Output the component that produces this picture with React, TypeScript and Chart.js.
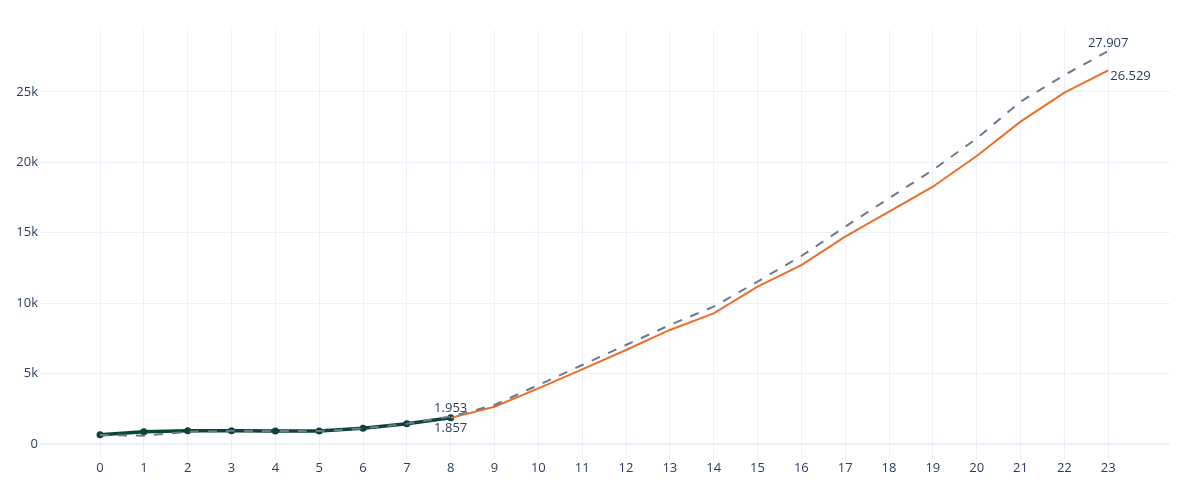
import React, { useEffect, useRef } from "react";
import { Chart, registerables } from "chart.js";

Chart.register(...registerables);

const categories = [0, 1, 2, 3, 4, 5, 6, 7, 8, 9, 10, 11, 12, 13, 14, 15, 16, 17, 18, 19, 20, 21, 22, 23];
const forecastValues = [640, 590, 860, 935, 925, 915, 1110, 1435, 1953, 2770, 4190, 5610, 7030, 8450, 9750, 11530, 13350, 15430, 17450, 19460, 21700, 24310, 26200, 27907];
const actualValues = [660, 875, 940, 940, 930, 920, 1115, 1440, 1857];
const projectionStart = 8;
const projectionValues = [1857, 2650, 3955, 5300, 6675, 8100, 9280, 11170, 12710, 14720, 16500, 18270, 20450, 22890, 24950, 26529];
const yTickValues = [0, 5000, 10000, 15000, 20000, 25000];

const TEXT_COLOR = "#2a3f5f";
const GRID_COLOR = "#ebf0f8";

function fmt(v: number): string {
  const s = Math.round(v).toString();
  return s.replace(/\B(?=(\d{3})+(?!\d))/g, ".");
}

const labelSpecs = [
  { ds: 0, idx: 8, pos: "top" },
  { ds: 0, idx: 23, pos: "top" },
  { ds: 1, idx: projectionValues.length - 1, pos: "bottomright" },
  { ds: 2, idx: 8, pos: "bottom" },
];

const labelPlugin = {
  id: "pointLabels",
  afterDatasetsDraw(chart: any) {
    const ctx = chart.ctx;
    ctx.save();
    ctx.font = '13px "Open Sans"';
    ctx.fillStyle = TEXT_COLOR;
    ctx.textBaseline = "middle";
    for (const s of labelSpecs) {
      const meta = chart.getDatasetMeta(s.ds);
      const el = meta.data[s.idx];
      if (!el) continue;
      const raw: any = chart.data.datasets[s.ds].data[s.idx];
      const text = fmt(raw.y);
      if (s.pos === "top") {
        ctx.textAlign = "center";
        ctx.fillText(text, el.x, el.y - 8);
      } else if (s.pos === "bottom") {
        ctx.textAlign = "center";
        ctx.fillText(text, el.x, el.y + 10);
      } else {
        ctx.textAlign = "left";
        ctx.fillText(text, el.x + 2, el.y + 6);
      }
    }
    ctx.restore();
  },
};

export default function App() {
  const ref = useRef<HTMLCanvasElement | null>(null);
  useEffect(() => {
    document.body.style.margin = "0";
    if (!ref.current) return;
    Chart.defaults.font.family = '"Open Sans", verdana, arial, sans-serif';
    Chart.defaults.font.size = 13;
    Chart.defaults.color = TEXT_COLOR;
    const chart = new Chart(ref.current, {
      type: "line",
      data: {
        datasets: [
          {
            label: "forecast",
            data: categories.map((c, i) => ({ x: c, y: forecastValues[i] })),
            borderColor: "#6b7a8f",
            borderWidth: 2,
            borderDash: [9, 9],
            pointRadius: 0,
            fill: false,
            tension: 0,
          },
          {
            label: "projection",
            data: projectionValues.map((v, i) => ({ x: categories[projectionStart + i], y: v })),
            borderColor: "#e8702a",
            borderWidth: 2,
            pointRadius: 0,
            fill: false,
            tension: 0,
          },
          {
            label: "actual",
            data: actualValues.map((v, i) => ({ x: categories[i], y: v })),
            borderColor: "#0b4537",
            backgroundColor: "#0b4537",
            borderWidth: 3.5,
            pointRadius: 3.5,
            pointBorderWidth: 0,
            fill: false,
            tension: 0,
          },
        ],
      },
      options: {
        animation: false,
        responsive: true,
        maintainAspectRatio: false,
        events: [],
        layout: { padding: { top: 30, right: 30, left: 0, bottom: 0 } },
        plugins: {
          legend: { display: false },
          tooltip: { enabled: false },
        },
        scales: {
          x: {
            type: "linear",
            min: -1.369,
            max: 24.41,
            afterBuildTicks: (scale: any) => {
              scale.ticks = categories.map((c) => ({ value: c }));
            },
            afterFit: (scale: any) => {
              scale.height = 40;
            },
            ticks: {
              padding: 0,
              color: TEXT_COLOR,
              maxRotation: 0,
              autoSkip: false,
              callback: (v: any) => String(v),
            },
            grid: { color: GRID_COLOR, lineWidth: 1, drawTicks: false },
            border: { display: false },
          },
          y: {
            type: "linear",
            min: -1136,
            max: 29400,
            afterBuildTicks: (scale: any) => {
              scale.ticks = yTickValues.map((v) => ({ value: v }));
            },
            afterFit: (scale: any) => {
              scale.width = 40;
            },
            ticks: {
              padding: 2,
              color: TEXT_COLOR,
              callback: (v: any) => (v === 0 ? "0" : v / 1000 + "k"),
            },
            grid: {
              color: GRID_COLOR,
              lineWidth: (c: any) => (c.tick && c.tick.value === 0 ? 2 : 1),
              drawTicks: false,
            },
            border: { display: false },
          },
        },
      },
      plugins: [labelPlugin],
    } as any);
    return () => chart.destroy();
  }, []);
  return (
    <div style={{ position: "relative", width: 1200, height: 500 }}>
      <canvas ref={ref} />
    </div>
  );
}
